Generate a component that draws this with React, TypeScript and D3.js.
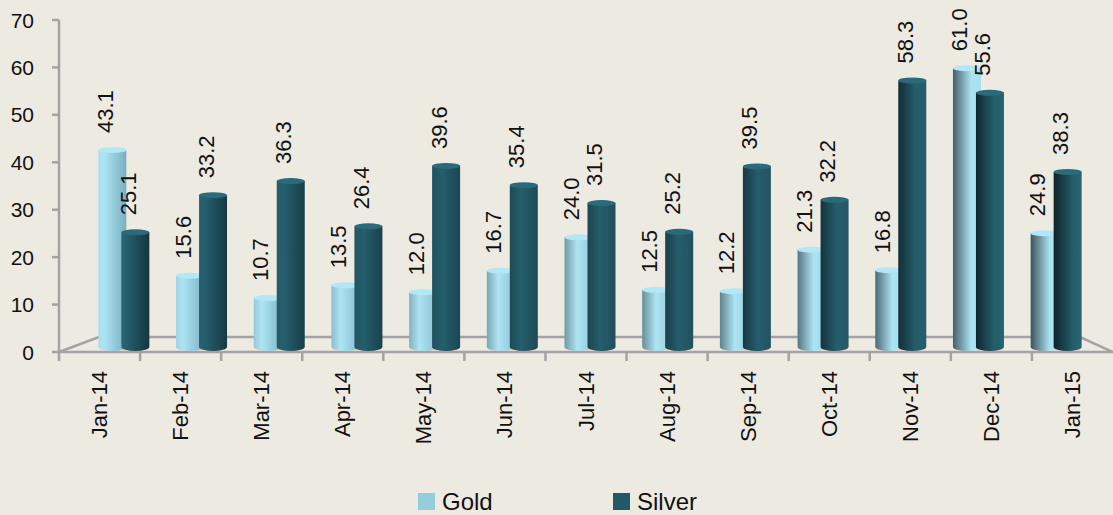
import React, { useEffect, useRef } from "react";
import * as d3 from "d3";

const months = [
  "Jan-14", "Feb-14", "Mar-14", "Apr-14", "May-14", "Jun-14", "Jul-14",
  "Aug-14", "Sep-14", "Oct-14", "Nov-14", "Dec-14", "Jan-15",
];
const gold = [43.1, 15.6, 10.7, 13.5, 12.0, 16.7, 24.0, 12.5, 12.2, 21.3, 16.8, 61.0, 24.9];
const silver = [25.1, 33.2, 36.3, 26.4, 39.6, 35.4, 31.5, 25.2, 39.5, 32.2, 58.3, 55.6, 38.3];
const yTicks = [0, 10, 20, 30, 40, 50, 60, 70];
const seriesNames = ["Gold", "Silver"];

const W = 1113;
const H = 515;
const FONT = "'Liberation Sans', Arial, sans-serif";

const App = () => {
  const ref = useRef<SVGSVGElement | null>(null);

  useEffect(() => {
    drawChart();
    //eslint-disable-next-line
  }, []);

  function drawChart() {
    const svg = d3.select(ref.current);
    svg.selectAll("*").remove();

    svg.append("rect").attr("width", W).attr("height", H).attr("fill", "#EDEAE2");

    // front plane (axes) and back plane (bars sit a bit deeper)
    const x = d3.scaleBand().domain(months).range([59, 1113]);
    const y = d3.scaleLinear().domain([0, 70]).range([352, 20]);
    const xBar = d3.scaleBand().domain(months).range([85, 1095]);
    const yBar = d3.scaleLinear().domain([0, 70]).range([347, 27]);

    const axisColor = "#A3A3A3";
    const defs = svg.append("defs");

    // floor
    const floor = svg.append("g").attr("stroke", axisColor).attr("stroke-width", 2.5).attr("fill", "none");
    floor.append("path").attr("d", `M59,352 L99,337 L1080,337 L1113,352`);
    floor.append("line").attr("x1", 59).attr("x2", 1113).attr("y1", 352).attr("y2", 352);
    floor.append("line").attr("x1", 59).attr("x2", 59).attr("y1", y(70)).attr("y2", y(0));

    // y ticks
    const yg = svg.append("g");
    yTicks.forEach((t) => {
      yg.append("line")
        .attr("x1", 52).attr("x2", 59)
        .attr("y1", y(t)).attr("y2", y(t))
        .attr("stroke", axisColor).attr("stroke-width", 2.5);
      yg.append("text")
        .attr("x", 34).attr("y", y(t))
        .attr("text-anchor", "end").attr("dominant-baseline", "central")
        .attr("font-family", FONT).attr("font-size", 21).attr("fill", "#111")
        .text(t);
    });

    // x ticks and labels
    const xg = svg.append("g");
    months.forEach((m) => {
      xg.append("line")
        .attr("x1", x(m)!).attr("x2", x(m)!)
        .attr("y1", 352).attr("y2", 361)
        .attr("stroke", axisColor).attr("stroke-width", 2.5);
      const cx = x(m)! + x.bandwidth() / 2;
      xg.append("text")
        .attr("transform", `translate(${cx},371) rotate(-90)`)
        .attr("text-anchor", "end").attr("dominant-baseline", "central")
        .attr("font-family", FONT).attr("font-size", 22).attr("fill", "#111")
        .text(m);
    });

    // cylinders
    const barW = 28;
    const step = 23;
    const groupW = step + barW;
    const ry = 4;
    const n = months.length;

    const styles = [
      {
        leftA: "#A8DFEF", leftB: "#3C535D",
        rightA: "#78B0C1", rightB: "#A9E3F3",
        mid: "#ADE4F3", top: "#B4E6F3",
      },
      {
        leftA: "#2B6777", leftB: "#0E2228",
        rightA: "#143640", rightB: "#2A6575",
        mid: "#245E6C", top: "#2D6A79",
      },
    ];
    const series = [gold, silver];

    const bars = svg.append("g");
    months.forEach((m, i) => {
      const t = i / (n - 1);
      const g0 = xBar(m)! + (xBar.bandwidth() - groupW) / 2;
      series.forEach((vals, s) => {
        const st = styles[s];
        const gid = `cyl-${s}-${i}`;
        const grad = defs.append("linearGradient").attr("id", gid).attr("x1", 0).attr("x2", 1).attr("y1", 0).attr("y2", 0);
        grad.append("stop").attr("offset", 0).attr("stop-color", d3.interpolateRgb(st.leftA, st.leftB)(t));
        grad.append("stop").attr("offset", 0.2 + 0.5 * t).attr("stop-color", st.mid);
        grad.append("stop").attr("offset", 1).attr("stop-color", d3.interpolateRgb(st.rightA, st.rightB)(t));

        const bx = g0 + s * step;
        const top = yBar(vals[i]);
        const base = yBar(0);
        const rx = barW / 2;
        bars.append("path")
          .attr("d", `M${bx},${top} L${bx},${base} A${rx},${ry} 0 0 0 ${bx + barW},${base} L${bx + barW},${top} Z`)
          .attr("fill", `url(#${gid})`);
        bars.append("ellipse")
          .attr("cx", bx + rx).attr("cy", top)
          .attr("rx", rx).attr("ry", ry - 1)
          .attr("fill", st.top);
      });
    });

    // value labels
    const labels = svg.append("g");
    months.forEach((m, i) => {
      const g0 = xBar(m)! + (xBar.bandwidth() - groupW) / 2;
      series.forEach((vals, s) => {
        const cx = g0 + s * step + barW / 2 - 7;
        const ty = yBar(vals[i]) - 17;
        labels.append("text")
          .attr("transform", `translate(${cx},${ty}) rotate(-90)`)
          .attr("text-anchor", "start").attr("dominant-baseline", "central")
          .attr("font-family", FONT).attr("font-size", 22).attr("fill", "#111")
          .text(vals[i].toFixed(1));
      });
    });

    // legend
    const legendColors = ["#94CEDE", "#215A66"];
    const legendX = [418, 613];
    const lg = svg.append("g");
    seriesNames.forEach((name, s) => {
      lg.append("rect")
        .attr("x", legendX[s]).attr("y", 493)
        .attr("width", 17).attr("height", 17)
        .attr("fill", legendColors[s]);
      lg.append("text")
        .attr("x", legendX[s] + 24).attr("y", 510)
        .attr("font-family", FONT).attr("font-size", 24).attr("fill", "#111")
        .text(name);
    });
  }

  return (
    <div style={{ position: "absolute", left: 0, top: 0 }}>
      <svg ref={ref} width={W} height={H} style={{ display: "block" }} />
    </div>
  );
};

export default App;
